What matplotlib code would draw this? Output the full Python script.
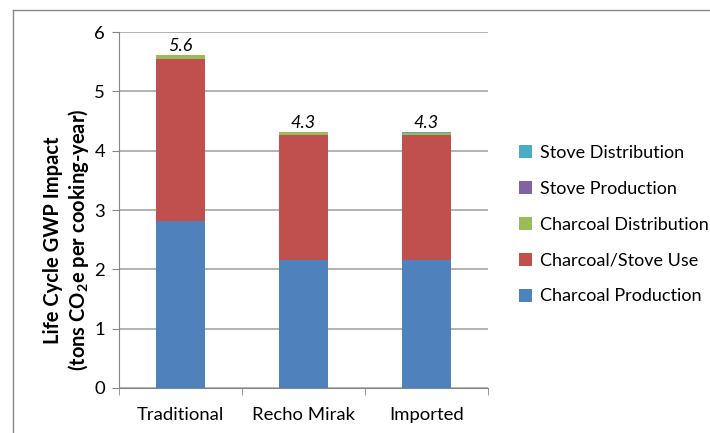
import matplotlib
matplotlib.use("Agg")
import matplotlib.pyplot as plt
from matplotlib.lines import Line2D
import numpy as np

plt.rcParams['font.family'] = ['Lato', 'DejaVu Sans']
plt.rcParams['mathtext.default'] = 'regular'

# data
categories = ['Traditional', 'Recho Mirak', 'Imported']
charcoal_production = [2.81, 2.15, 2.15]
charcoal_stove_use = [2.74, 2.12, 2.11]
charcoal_distribution = [0.06, 0.04, 0.03]
stove_production = [0.0, 0.0, 0.005]
stove_distribution = [0.0, 0.0, 0.015]
totals = ['5.6', '4.3', '4.3']

series = [
    ('Charcoal Production', charcoal_production, '#4F81BD'),
    ('Charcoal/Stove Use', charcoal_stove_use, '#C0504D'),
    ('Charcoal Distribution', charcoal_distribution, '#9BBB59'),
    ('Stove Production', stove_production, '#8064A2'),
    ('Stove Distribution', stove_distribution, '#4BACC6'),
]

fig = plt.figure(figsize=(7.1, 4.33), dpi=100)
ax = fig.add_axes([119 / 710, 45 / 433, 369 / 710, 356 / 433])

x = np.arange(len(categories))
bottom = np.zeros(len(categories))
handles = []
for name, vals, col in series:
    h = ax.bar(x, vals, 0.4, bottom=bottom, color=col, label=name, zorder=3)
    handles.append(h)
    bottom += np.array(vals)

for xi, top, txt in zip(x, bottom, totals):
    ax.text(xi, top + 0.02, txt, ha='center', va='bottom', fontsize=13,
            style='italic', color='black')

ax.set_xlim(-0.5, 2.5)
ax.set_ylim(0, 6)
ax.set_yticks(range(7))
ax.yaxis.grid(True, color='#a6a6a6', linewidth=1.2, zorder=0)
ax.set_axisbelow(True)

ax.set_xticks(x)
ax.set_xticklabels(categories, fontsize=13.3)
ax.set_xticks([-0.5, 0.5, 1.5, 2.5], minor=True)
ax.tick_params(axis='x', which='major', length=0, pad=14)
ax.tick_params(axis='x', which='minor', length=5, color='#868686', direction='out')
ax.tick_params(axis='y', length=5, color='#868686', labelsize=13.3, pad=5)

for s in ['top', 'right']:
    ax.spines[s].set_visible(False)
for s in ['left', 'bottom']:
    ax.spines[s].set_color('#868686')

ax.set_ylabel('Life Cycle GWP Impact\n(tons CO$_2$e per cooking-year)',
              fontsize=14.5, fontweight='bold', linespacing=1.15,
              va='center', ha='center')
ax.yaxis.set_label_coords(-0.141, 0.415)

leg = fig.legend(handles[::-1], [s[0] for s in series][::-1],
                 loc='center left', bbox_to_anchor=(0.7305, 0.481),
                 frameon=False, fontsize=13, handlelength=0.75,
                 handleheight=0.75, handletextpad=0.45, labelspacing=1.1,
                 borderaxespad=0, borderpad=0)

# outer chart border (cropped)
fig.add_artist(Line2D([13 / 710, 1.0], [1 - 10 / 433, 1 - 10 / 433],
                      transform=fig.transFigure, color='#868686', linewidth=1))
fig.add_artist(Line2D([13 / 710, 13 / 710], [0.0, 1 - 10 / 433],
                      transform=fig.transFigure, color='#868686', linewidth=1))

fig.savefig('out.png', dpi=100)
